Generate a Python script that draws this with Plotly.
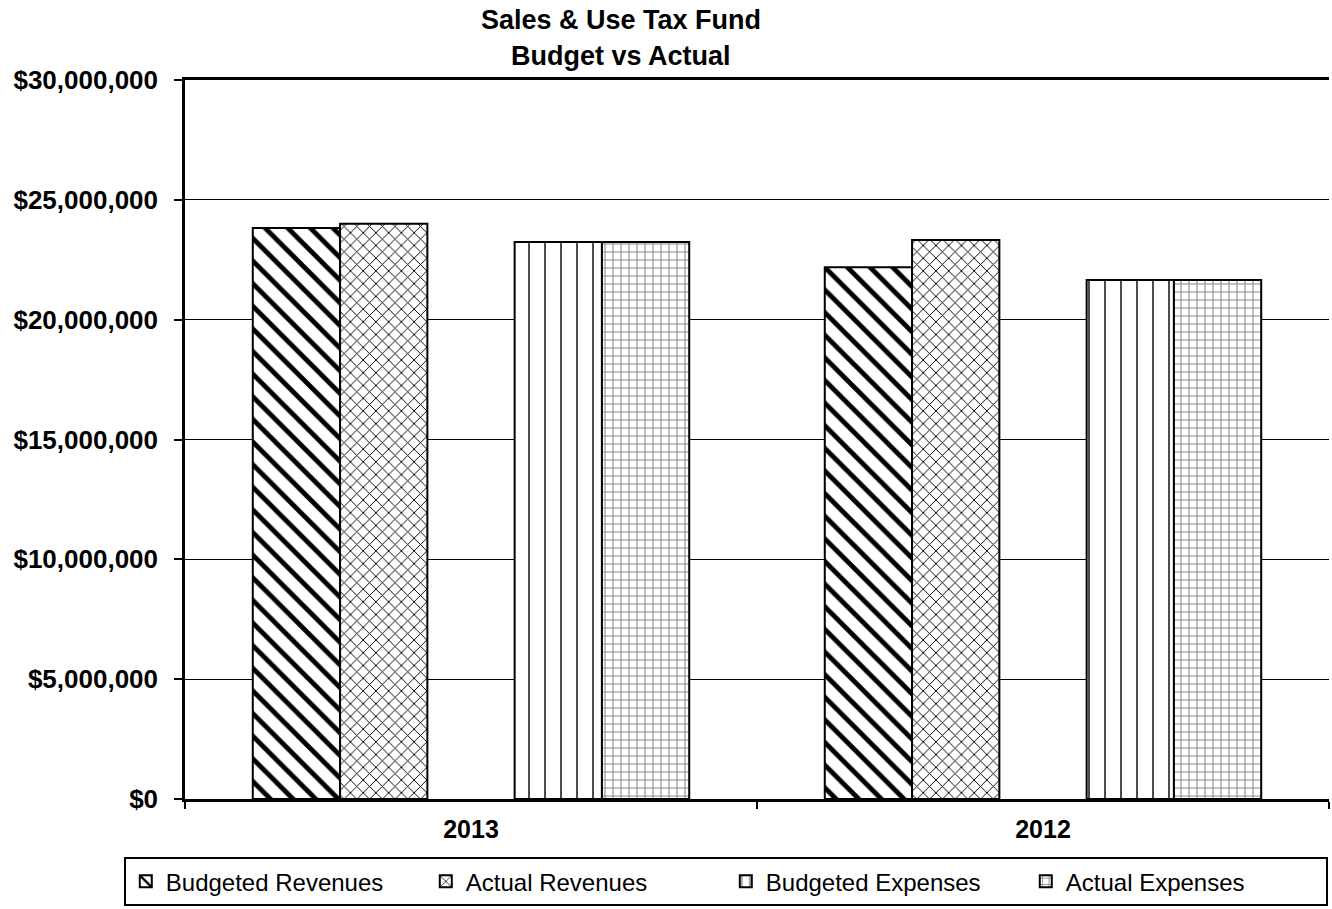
import plotly.graph_objects as go

# Fiscal years shown on the category axis
years = ["2013", "2012"]

# Fund amounts in dollars
budgeted_revenues = [23820000, 22190000]
actual_revenues = [24000000, 23320000]
budgeted_expenses = [23240000, 21650000]
actual_expenses = [23240000, 21650000]
spacer = [0, 0]  # empty slot separating revenues from expenses

tick_values = [0, 5000000, 10000000, 15000000, 20000000, 25000000, 30000000]

FONT = "Liberation Sans, Arial, sans-serif"

series = [
    ("Budgeted Revenues", budgeted_revenues, dict(shape="\\", size=16, solidity=0.3, fgcolor="black")),
    ("Actual Revenues", actual_revenues, dict(shape="x", size=9, solidity=0.2, fgcolor="black")),
    (None, spacer, None),
    ("Budgeted Expenses", budgeted_expenses, dict(shape="|", size=16, solidity=0.12, fgcolor="#444444")),
    ("Actual Expenses", actual_expenses, dict(shape="+", size=8, solidity=0.25, fgcolor="#8a8a8a")),
]

fig = go.Figure()
for name, values, pattern in series:
    if name is None:
        fig.add_trace(go.Bar(
            x=years, y=values, showlegend=False, hoverinfo="skip",
            marker=dict(color="rgba(0,0,0,0)", line=dict(width=0)),
        ))
        continue
    fig.add_trace(go.Bar(
        x=years, y=values, name=name,
        marker=dict(
            color="white",
            line=dict(color="black", width=2),
            pattern=dict(bgcolor="white", fillmode="replace", **pattern),
        ),
    ))

fig.update_layout(
    width=1332, height=909,
    margin=dict(l=185, r=3, t=80, b=110),
    paper_bgcolor="white", plot_bgcolor="white",
    barmode="group", bargap=0.237, bargroupgap=0,
    font=dict(family=FONT, color="black"),
    showlegend=True,
    legend=dict(
        orientation="h",
        x=-0.0535, xanchor="left",
        y=-0.081, yanchor="top",
        bordercolor="black", borderwidth=2,
        font=dict(family=FONT, size=24, color="black"),
        entrywidth=255, entrywidthmode="pixels",
        itemsizing="constant",
        tracegroupgap=0,
    ),
    annotations=[
        dict(text="<b>Sales &amp; Use Tax Fund</b>", xref="paper", yref="paper",
             x=0.381, y=1.083, xanchor="center", yanchor="middle", showarrow=False,
             font=dict(family=FONT, size=27, color="black")),
        dict(text="<b>Budget vs Actual</b>", xref="paper", yref="paper",
             x=0.381, y=1.033, xanchor="center", yanchor="middle", showarrow=False,
             font=dict(family=FONT, size=27, color="black")),
    ],
)

fig.update_xaxes(
    type="category", tickson="boundaries",
    showline=True, linecolor="black", linewidth=3, mirror=True,
    ticks="outside", ticklen=7, tickwidth=2, tickcolor="black",
    tickfont=dict(family=FONT, size=25, color="black", weight="bold"),
    ticklabelstandoff=6,
    showgrid=False,
)
fig.update_yaxes(
    range=[0, 30000000], tickvals=tick_values, tickformat="$,.0f",
    showline=True, linecolor="black", linewidth=2.5,
    ticks="outside", ticklen=8, tickwidth=2, tickcolor="black",
    tickfont=dict(family=FONT, size=26, color="black", weight="bold"),
    ticklabelstandoff=11,
    showgrid=True, gridcolor="black", gridwidth=1,
    zeroline=False,
)

fig.write_html("out.html")
